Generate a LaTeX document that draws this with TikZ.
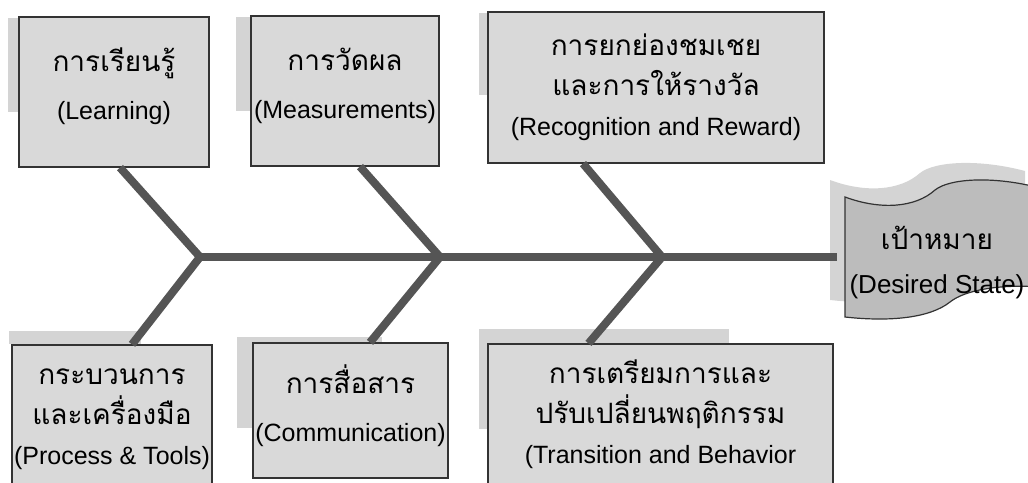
\documentclass[tikz,border=0pt]{standalone}
\usepackage{fontspec}
\setmainfont{Liberation Sans}
\newfontfamily\thaitxt[Script=Thai]{Loma}
\usetikzlibrary{backgrounds}

\definecolor{boxgray}{HTML}{D9D9D9}
\definecolor{shadowgray}{HTML}{D4D4D4}
\definecolor{flaggray}{HTML}{BCBCBC}
\definecolor{bonegray}{HTML}{555555}

\newcommand\flagpath{(845,197) .. controls (880,210) and (915,208) .. (935,190) .. controls (950,178) and (995,176) .. (1040,188) -- (1040,287) .. controls (1000,284) and (965,290) .. (950,302) .. controls (930,318) and (890,322) .. (845,317) -- cycle}
\newcommand\thline[1]{{\thaitxt\fontsize{14}{20}\selectfont #1}}

\begin{document}
\begin{tikzpicture}[
    x=0.5pt, y=-0.5pt,
    factor/.style={rectangle, draw=black!80, line width=0.6pt, fill=boxgray, align=center, inner sep=1pt, font=\fontsize{12.5}{20}\selectfont},
    bone/.style={draw=bonegray, line width=4pt}
]
\useasboundingbox (0,0) rectangle (1028,482);

% Causes
\node[factor, minimum width=95pt, minimum height=75pt] (learn) at (114,92) {\thline{การเรียนรู้}\\[4pt](Learning)\\[-12pt]};
\node[factor, minimum width=94pt, minimum height=75pt] (meas) at (345,91) {\thline{การวัดผล}\\[4pt](Measurements)\\[-12pt]};
\node[factor, minimum width=168pt, minimum height=75.5pt] (recog) at (656,87.5) {\thline{การยกย่องชมเชย}\\\thline{และการให้รางวัล}\\(Recognition and Reward)};
\node[factor, minimum width=98pt, minimum height=74pt] (proc) at (112,419) {\thline{กระบวนการ}\\\thline{และเครื่องมือ}\\(Process \& Tools)};
\node[factor, minimum width=97.5pt, minimum height=67.5pt] (comm) at (350.5,410.5) {\thline{การสื่อสาร}\\[4pt](Communication)\\[-13pt]};
\node[factor, minimum width=172.5pt, minimum height=74pt] (trans) at (660.5,418) {\thline{การเตรียมการและ}\\\thline{ปรับเปลี่ยนพฤติกรรม}\\(Transition and Behavior\\[-14pt]};

% Shadows and goal flag
\begin{pgfonlayer}{background}
\fill[shadowgray] ([xshift=-5pt,yshift=-1pt]learn.north west) rectangle ([yshift=-48pt]learn.north west);
\fill[shadowgray] ([xshift=-7pt,yshift=-1pt]meas.north west) rectangle ([yshift=-48pt]meas.north west);
\fill[shadowgray] ([xshift=-4pt,yshift=-1pt]recog.north west) rectangle ([yshift=-42pt]recog.north west);
\fill[shadowgray] ([xshift=-1pt,yshift=6.5pt]proc.north west) rectangle ([xshift=65pt]proc.north west);
\fill[shadowgray] ([xshift=-7.5pt,yshift=2.5pt]comm.north west) rectangle ([xshift=65pt,yshift=-43pt]comm.north west);
\fill[shadowgray] ([xshift=-4pt,yshift=7pt]trans.north west) rectangle ([xshift=121pt,yshift=-43pt]trans.north west);
\fill[shadowgray, shift={(-15,-17)}] \flagpath;
\draw[fill=flaggray, draw=black!80, line width=0.6pt] \flagpath;
\end{pgfonlayer}

% Effect
\node[align=center, inner sep=0pt, minimum width=92pt, font=\fontsize{13}{22}\selectfont] (goal) at (937,262) {{\thaitxt\fontsize{14}{22}\selectfont เป้าหมาย}\\(Desired State)};

% Fish bones
\coordinate (j1) at (200,257);
\coordinate (j2) at (440,257);
\coordinate (j3) at (662,257);
\draw[bone] ([xshift=3pt]learn.south) -- (j1) -- ([xshift=10pt]proc.north);
\draw[bone] ([xshift=7.5pt]meas.south) -- (j2) -- ([xshift=9.75pt]comm.north);
\draw[bone] ([xshift=-36.5pt]recog.south) -- (j3) -- ([xshift=-36pt]trans.north);
\draw[bone] (j1) -- ([xshift=-4pt]j1 -| goal.west);

\end{tikzpicture}
\end{document}
